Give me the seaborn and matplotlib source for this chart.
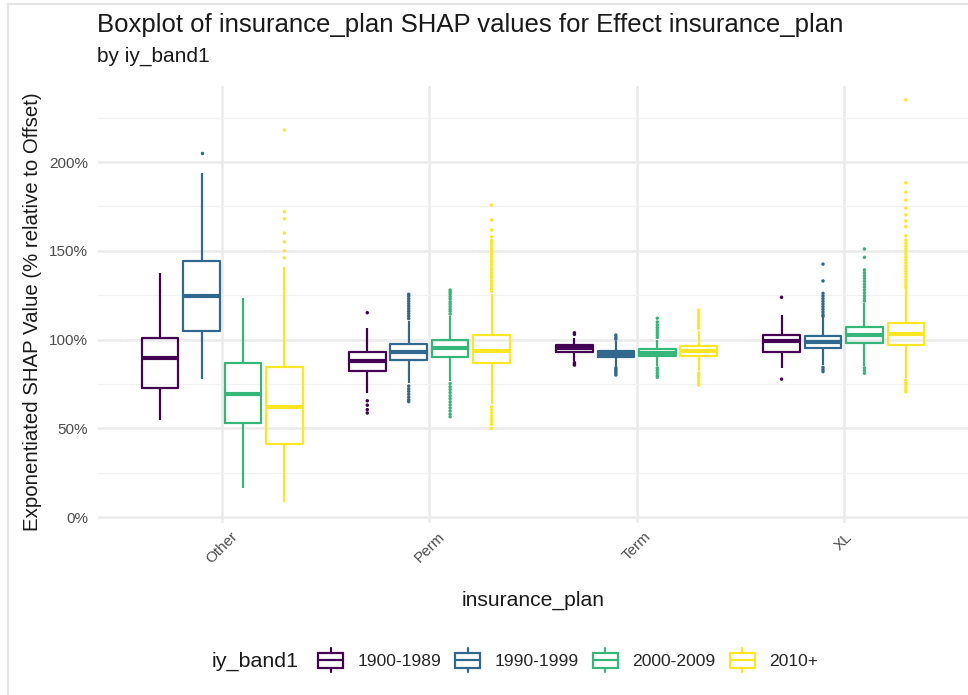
import numpy as np
import pandas as pd
import matplotlib
matplotlib.use("Agg")
import matplotlib.pyplot as plt
import seaborn as sns
from matplotlib.legend_handler import HandlerBase
from matplotlib.patches import Rectangle, Patch
from matplotlib.lines import Line2D

# ---------------- data (values in % relative to offset) ----------------
plans = ["Other", "Perm", "Term", "XL"]
bands = ["1900-1989", "1990-1999", "2000-2009", "2010+"]
colors = ["#440154", "#31688E", "#35B779", "#FDE725"]

# five-number summaries per band: whisker low, Q1, median, Q3, whisker high
other_stats = [[54.6, 72.5, 89.4, 100.6, 137.3],
               [77.6, 104.8, 124.7, 144.2, 193.6],
               [16.2, 52.8, 69.3, 86.6, 123.6],
               [8.6, 41.1, 62.1, 84.3, 141.0]]
perm_stats = [[69.7, 82.4, 87.9, 93.1, 106.3],
              [75.3, 88.5, 92.8, 97.3, 110.5],
              [76.8, 90.3, 95.0, 99.5, 113.0],
              [63.5, 86.6, 93.5, 102.4, 125.8]]
term_stats = [[88.0, 93.1, 95.0, 96.9, 100.6],
              [84.8, 90.0, 91.8, 93.7, 99.0],
              [85.2, 90.7, 92.6, 94.5, 100.0],
              [82.3, 90.7, 93.7, 96.5, 105.0]]
xl_stats = [[83.8, 92.8, 99.3, 102.5, 113.8],
            [85.5, 95.4, 98.8, 102.2, 112.2],
            [85.0, 98.2, 102.5, 107.2, 120.5],
            [78.3, 96.9, 103.1, 109.5, 128.2]]

# outliers per band
other_outliers = [[],
                  [204.9],
                  [],
                  [146.0, 150.0, 155.0, 160.0, 168.0, 172.0, 218.0]]
perm_outliers = [[115.1, 65.5, 63.0, 60.5, 58.6],
                 [111.8, 113.2, 114.6, 116.0, 117.4, 118.8, 120.2, 121.6, 123.0, 124.4, 125.5,
                  73.8, 72.3, 70.8, 69.2, 67.6, 66.1, 65.0],
                 [114.4, 115.9, 117.1, 118.6, 120.0, 121.3, 122.9, 124.2, 125.6, 126.8, 127.9,
                  75.2, 73.4, 71.8, 70.1, 68.3, 66.7, 64.9, 63.2, 61.5, 59.8, 58.0, 56.5],
                 [127.2, 128.6, 130.1, 131.5, 133.0, 134.6, 136.0, 137.4, 139.0, 140.5, 142.1,
                  143.6, 145.0, 146.6, 148.1, 149.5, 151.0, 152.6, 154.2, 155.7, 157.9, 161.7,
                  167.3, 175.8,
                  62.1, 60.4, 58.8, 57.1, 55.5, 53.9, 52.2, 50.0]]
term_outliers = [[102.9, 103.8, 87.0, 86.2, 85.6],
                 [100.2, 101.3, 102.5, 83.9, 82.9, 82.0, 81.0, 80.0],
                 [101.2, 102.6, 104.0, 105.5, 106.8, 108.3, 109.9, 112.0,
                  84.0, 82.6, 81.1, 79.7, 78.7],
                 [106.3, 107.8, 109.2, 110.8, 112.2, 113.7, 115.1, 116.6,
                  81.0, 79.6, 78.1, 76.6, 75.2, 74.4]]
xl_outliers = [[123.8, 77.7],
               [142.5, 133.0, 126.0, 124.5, 123.0, 121.5, 120.0, 118.5, 117.0, 115.5, 114.0, 113.0,
                84.3, 83.1, 81.9],
               [151.0, 146.3, 139.2, 137.6, 136.0, 134.4, 132.8, 131.1, 129.5, 127.9, 126.3,
                124.7, 123.1, 121.7, 84.0, 82.5, 81.0],
               [235.0, 188.3, 183.0, 178.6, 174.0, 170.3, 166.8, 163.6, 158.4, 156.0, 154.4,
                152.8, 151.2, 149.6, 148.0, 146.4, 144.8, 143.2, 141.6, 140.0, 138.4, 136.8,
                135.2, 133.6, 132.0, 130.4, 129.2, 77.0, 75.6, 74.2, 72.8, 71.5, 70.6]]

y_ticks = [0, 50, 100, 150, 200]
y_tick_labels = ["0%", "50%", "100%", "150%", "200%"]

title = "Boxplot of insurance_plan SHAP values for Effect insurance_plan"
subtitle = "by iy_band1"
x_label = "insurance_plan"
y_label = "Exponentiated SHAP Value (% relative to Offset)"
legend_title = "iy_band1"

# ---------------- tables ----------------
all_stats = dict(zip(plans, [other_stats, perm_stats, term_stats, xl_stats]))
all_outliers = dict(zip(plans, [other_outliers, perm_outliers, term_outliers, xl_outliers]))

box_rows, out_rows = [], []
for p in plans:
    for b, st, outs in zip(bands, all_stats[p], all_outliers[p]):
        for v in st:
            box_rows.append((p, b, v))
        for v in outs:
            out_rows.append((p, b, v))
box_df = pd.DataFrame(box_rows, columns=["plan", "band", "value"])
out_df = pd.DataFrame(out_rows, columns=["plan", "band", "value"])

# ---------------- figure ----------------
sns.set_theme(style="white")
plt.rcParams["font.family"] = ["Liberation Sans", "DejaVu Sans"]

W, H = 968, 695
fig = plt.figure(figsize=(W / 100, H / 100), dpi=100)
fig.patch.set_facecolor("white")
ax = fig.add_axes([98 / W, 1 - 522.7 / H, 870 / W, 437 / H])

sns.boxplot(data=box_df, x="plan", y="value", hue="band", order=plans,
            hue_order=bands, palette=colors, fill=False, whis=(0, 100),
            width=0.8, gap=0.12, linewidth=1.6, showfliers=False,
            showcaps=False, medianprops=dict(linewidth=3.0),
            legend=False, ax=ax)
sns.stripplot(data=out_df, x="plan", y="value", hue="band", order=plans,
              hue_order=bands, palette=colors, dodge=True, jitter=False,
              size=2.5, linewidth=0, legend=False, ax=ax)

ax.set_xlim(-0.6, 3.6)
ax.set_ylim(-3.2, 243)
ax.set_yticks(y_ticks)
ax.set_yticklabels(y_tick_labels)
ax.set_yticks([25, 75, 125, 175, 225], minor=True)
ax.grid(which="major", color="#EBEBEB", linewidth=1.8)
ax.grid(which="minor", axis="y", color="#F1F1F1", linewidth=0.9)
ax.set_axisbelow(True)
for s in ax.spines.values():
    s.set_visible(False)
ax.tick_params(axis="both", which="both", length=0, labelsize=11,
               labelcolor="#4D4D4D")
ax.tick_params(axis="y", pad=7)
ax.tick_params(axis="x", pad=5)
for lab in ax.get_xticklabels():
    lab.set_rotation(45)
    lab.set_ha("center")
    lab.set_va("top")
ax.set_xlabel("")
ax.set_ylabel("")

# texts
fig.text(97 / W, 1 - 25 / H, title, fontsize=18.5, va="center", ha="left", color="#1a1a1a")
fig.text(97 / W, 1 - 56 / H, subtitle, fontsize=15, va="center", ha="left", color="#1a1a1a")
fig.text(33 / W, 1 - 312 / H, y_label, fontsize=14.7, rotation=90, va="center",
         ha="center", color="#1a1a1a")
fig.text(533 / W, 1 - 600 / H, x_label, fontsize=15.2, va="center", ha="center",
         color="#1a1a1a")


# legend with box-shaped keys
class BoxKey(HandlerBase):
    def create_artists(self, legend, orig_handle, xdescent, ydescent, width,
                       height, fontsize, trans):
        c = orig_handle.get_edgecolor()
        x0, y0 = -xdescent, -ydescent
        bw, bh = width * 0.92, height * 1.0
        bx = x0 + (width - bw) / 2
        by = y0 + (height - bh) / 2
        rect = Rectangle((bx, by), bw, bh, facecolor="white", edgecolor=c,
                         linewidth=1.6, transform=trans)
        med = Line2D([bx, bx + bw], [by + bh / 2] * 2, color=c, linewidth=1.6,
                     transform=trans)
        cx = x0 + width / 2
        w1 = Line2D([cx, cx], [by + bh, by + bh + height * 0.3], color=c,
                    linewidth=1.6, transform=trans)
        w2 = Line2D([cx, cx], [by, by - height * 0.3], color=c,
                    linewidth=1.6, transform=trans)
        return [rect, med, w1, w2]


handles = [Patch(edgecolor=c, facecolor="white") for c in colors]
fig.text(212 / W, 1 - 661 / H, legend_title, fontsize=15.4, va="center", ha="left",
         color="#1a1a1a")
fig.legend(handles, bands, handler_map={Patch: BoxKey()}, loc="center left",
           bbox_to_anchor=(317 / W, 1 - 661 / H), ncol=4, frameon=False,
           fontsize=12.6, handlelength=1.55, handleheight=0.95, handletextpad=0.75,
           columnspacing=0.75, borderaxespad=0, borderpad=0)

# faint screenshot frame
fig.add_artist(Line2D([8 / W, 8 / W], [0, 1 - 4 / H], color="#E3E3E3", linewidth=1.5,
                      transform=fig.transFigure))
fig.add_artist(Line2D([8 / W, 1], [1 - 4 / H, 1 - 4 / H], color="#E3E3E3", linewidth=1.5,
                      transform=fig.transFigure))

fig.savefig("out.png", dpi=100, facecolor="white")
